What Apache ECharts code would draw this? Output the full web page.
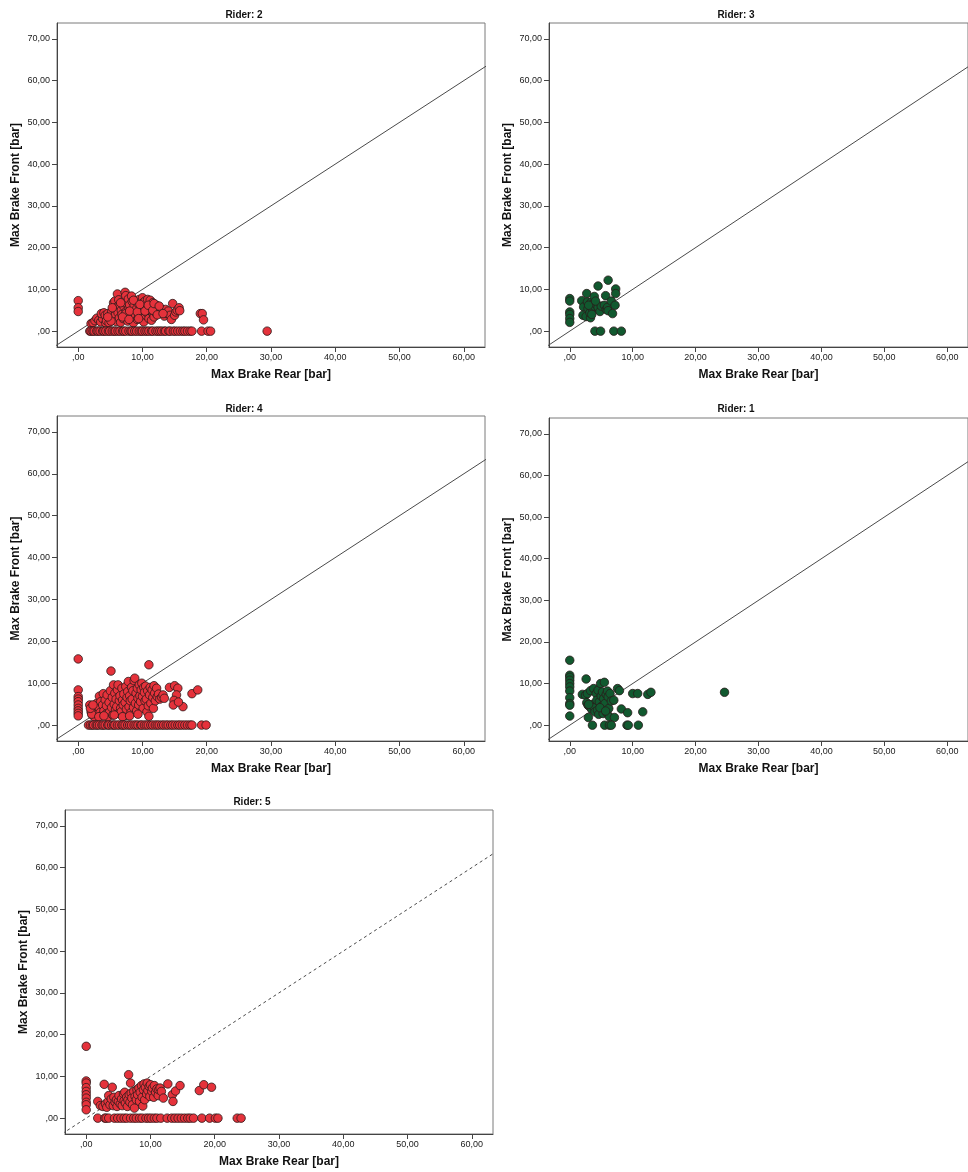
<!DOCTYPE html>
<html>
<head>
<meta charset="utf-8">
<script src="https://cdn.jsdelivr.net/npm/echarts@6/dist/echarts.min.js"></script>
<style>
html,body{margin:0;padding:0;background:#fff;}
#chart{width:968px;height:1172px;}
</style>
</head>
<body>
<div id="chart"></div>
<script>
// ---------- DATA ----------
const panelTitles = ['Rider: 2', 'Rider: 3', 'Rider: 4', 'Rider: 1', 'Rider: 5'];
const xAxisTitle = 'Max Brake Rear [bar]';
const yAxisTitle = 'Max Brake Front [bar]';
const xTickValues = [0, 10, 20, 30, 40, 50, 60];
const yTickValues = [0, 10, 20, 30, 40, 50, 60, 70];
const refLine = [[-10, -10], [80, 80]];   // y = x reference line

const rider2 = [
  [0,7.3],[0,5.6],[0,4.7],
  [2.0,1.8],[2.3,2.0],[2.6,2.5],[2.9,3.1],[3.2,2.6],[3.5,2.2],[3.8,3.0],[3.6,4.2],[4.0,4.4],[4.2,3.8],[4.3,1.9],[4.4,2.5],[4.6,4.2],[4.8,2.0],[4.9,3.2],
  [5.0,3.5],[5.2,4.6],[5.4,2.8],[5.5,6.8],[5.6,5.2],[5.7,7.2],[5.8,3.9],[5.9,2.3],[6.0,5.8],[6.1,8.9],[6.2,4.4],[6.3,7.5],[6.4,3.2],[6.5,6.2],[6.6,2.1],[6.7,5.0],[6.8,4.0],[6.9,7.0],
  [7.0,3.0],[7.1,5.9],[7.2,6.8],[7.3,9.3],[7.4,8.5],[7.5,4.8],[7.6,3.6],[7.7,2.4],[7.8,7.7],[7.9,5.5],[8.0,6.3],[8.1,4.2],[8.2,3.2],[8.3,8.4],[8.4,7.1],[8.5,5.0],[8.6,2.0],[8.7,6.0],[8.8,4.5],[8.9,3.6],
  [9.0,7.2],[9.1,5.4],[9.2,2.8],[9.3,6.6],[9.4,4.0],[9.5,7.6],[9.6,5.0],[9.7,3.4],[9.8,6.2],[9.9,4.6],[10.0,8.0],[10.1,6.8],[10.2,2.2],[10.3,5.5],[10.4,7.2],[10.5,3.8],[10.6,6.0],[10.7,4.4],[10.8,7.6],[10.9,5.0],
  [11.0,3.0],[11.1,6.5],[11.2,7.4],[11.3,4.8],[11.4,2.6],[11.5,5.8],[11.6,6.8],[11.7,4.0],[11.8,3.4],[11.9,6.0],[12.0,5.2],[12.1,4.4],[12.2,6.2],[12.4,5.6],[12.6,4.8],[12.8,5.4],[13.0,4.6],[13.2,5.0],[13.4,3.6],[13.6,5.2],[13.8,4.2],[14.0,4.8],[14.3,3.8],[14.5,2.8],[14.7,6.6],[15.0,3.8],[15.2,4.6],[15.4,5.0],[15.7,5.6],[15.8,4.9],
  [5.3,5.6],[6.6,6.8],[7.4,4.2],[8.0,4.8],[8.6,7.4],[9.2,4.6],[9.6,6.4],[10.4,4.8],[10.9,6.2],[11.6,5.0],[12.3,3.9],[6.9,3.4],[7.9,2.8],[9.4,3.0],[11.8,6.6],[12.6,6.0],[13.2,4.2],[5.1,2.4],[4.6,3.4],
  [19.0,4.2],[19.3,4.2],[19.5,2.7],
  [1.8,0],[2.0,0],[2.3,0],[2.5,0],[2.9,0],[3.1,0],[3.4,0],[3.8,0],[4.0,0],[4.3,0],[4.7,0],[4.9,0],[5.3,0],[5.6,0],[5.8,0],[6.2,0],[6.5,0],[6.9,0],[7.1,0],[7.4,0],[7.9,0],[8.2,0],[8.4,0],[8.8,0],[9.1,0],[9.5,0],[9.8,0],[10.0,0],[10.4,0],[10.7,0],[11.0,0],[11.4,0],[11.6,0],[12.1,0],[12.4,0],[12.7,0],[13.0,0],[13.4,0],[13.6,0],[14.1,0],[14.3,0],[14.8,0],[15.1,0],[15.5,0],[15.9,0],[16.3,0],[16.6,0],[17.0,0],[17.4,0],[17.7,0],
  [19.2,0],[20.2,0],[20.6,0],[29.4,0]
];

const rider3 = [
  [0,7.8],[0,7.2],[0,4.6],[0,4.0],[0,3.0],[0,2.1],
  [1.9,7.3],[2.2,5.8],[2.1,3.8],[2.6,3.5],[2.7,9.0],[2.8,7.0],[2.9,5.4],[3.3,3.2],[3.2,4.4],[3.4,6.9],[3.6,5.2],[3.7,6.6],[3.9,8.3],[3.9,6.0],[4.2,6.4],[4.5,10.8],[4.5,5.7],[4.8,4.7],[5.0,6.0],[5.5,6.2],[5.7,8.5],[5.8,5.2],[6.0,5.7],[6.1,4.9],[6.1,12.2],[6.6,7.2],[6.8,4.2],[7.2,6.2],[7.3,10.1],[7.3,9.0],[3.0,6.2],[4.1,7.2],[3.5,4.0],
  [4.0,0],[4.9,0],[7.0,0],[8.2,0]
];

const rider4 = [
  [0,15.8],[0,8.4],[0,6.8],[0,6.2],[0,5.6],[0,4.8],[0,4.0],[0,3.4],[0,2.8],[0,2.2],
  [1.8,4.8],[2.0,3.2],[2.2,2.4],[2.4,4.0],[2.5,2.0],[2.7,3.6],[2.9,5.2],[3.0,2.6],[3.1,4.4],[3.3,6.9],[3.4,3.0],[3.5,5.6],[3.6,2.2],[3.8,4.8],[3.9,7.5],[4.0,3.4],[4.2,6.0],[4.3,2.6],[4.4,4.6],[4.5,7.2],[4.6,1.9],[4.8,5.4],[4.9,3.2],
  [5.0,8.2],[5.1,12.9],[5.2,4.2],[5.3,6.6],[5.4,2.4],[5.5,9.6],[5.6,5.0],[5.7,7.6],[5.8,3.6],[5.9,6.2],[6.0,4.4],[6.1,8.4],[6.2,9.6],[6.3,2.8],[6.4,5.8],[6.5,7.0],[6.6,4.0],[6.7,3.2],[6.8,8.8],[6.9,6.0],
  [7.0,4.8],[7.1,7.4],[7.2,2.2],[7.3,5.4],[7.4,9.2],[7.5,3.8],[7.6,6.6],[7.7,8.0],[7.8,10.4],[7.9,4.4],[8.0,7.0],[8.1,5.8],[8.2,3.0],[8.3,9.0],[8.4,6.2],[8.5,8.2],[8.6,4.2],[8.7,10.6],[8.8,11.2],[8.9,5.2],
  [9.0,7.6],[9.1,3.4],[9.2,8.8],[9.3,6.4],[9.4,4.8],[9.5,9.6],[9.6,7.0],[9.7,5.6],[9.8,8.4],[9.9,10.0],[10.0,6.8],[10.1,4.0],[10.2,9.0],[10.3,7.8],[10.4,5.8],[10.5,9.3],[10.6,6.2],[10.7,3.2],[10.8,8.2],[10.9,4.6],
  [11.0,14.4],[11.0,2.1],[11.1,7.2],[11.2,9.0],[11.3,5.2],[11.5,8.4],[11.6,6.6],[11.7,4.0],[11.8,9.4],[11.9,7.6],[12.0,5.8],[12.2,8.8],[12.3,6.8],[12.5,7.4],[12.7,6.2],[13.0,6.6],[13.2,7.2],[13.4,6.4],
  [2.1,2.6],[3.2,2.0],[4.0,2.2],[5.6,2.4],[6.9,2.0],[8.0,2.2],[9.3,2.6],[1.9,4.0],[2.3,4.8],
  [14.2,9.0],[15.0,9.4],[15.5,8.8],[15.3,7.2],[14.9,5.9],[14.8,4.8],[16.3,4.4],[15.6,5.5],[17.7,7.5],[18.6,8.4],
  [1.6,0],[1.9,0],[2.2,0],[2.4,0],[2.8,0],[3.0,0],[3.3,0],[3.7,0],[3.9,0],[4.2,0],[4.6,0],[4.8,0],[5.2,0],[5.5,0],[5.7,0],[6.1,0],[6.4,0],[6.8,0],[7.0,0],[7.3,0],[7.7,0],[8.0,0],[8.3,0],[8.7,0],[9.0,0],[9.3,0],[9.7,0],[9.9,0],[10.3,0],[10.6,0],[10.9,0],[11.3,0],[11.6,0],[12.0,0],[12.3,0],[12.6,0],[13.0,0],[13.3,0],[13.7,0],[14.0,0],[14.4,0],[14.7,0],[15.1,0],[15.5,0],[15.8,0],[16.2,0],[16.6,0],[17.0,0],[17.4,0],[17.7,0],
  [19.2,0],[19.9,0]
];

const rider1 = [
  [0,15.6],[0,12.0],[0,11.5],[0,10.8],[0,10.0],[0,9.2],[0,8.2],[0,6.6],[0,5.2],[0,4.8],[0,2.2],
  [2.0,7.4],[2.5,7.2],[2.6,11.1],[2.8,7.6],[2.7,5.4],[2.9,4.8],[2.95,1.85],[3.3,8.3],[3.2,4.4],[3.5,3.8],[3.6,5.0],[3.8,8.8],[3.9,4.2],[4.0,3.2],[4.2,7.6],[4.3,6.0],[4.4,3.6],[4.5,8.4],[4.6,2.6],[4.7,5.6],[4.9,10.0],
  [5.0,7.0],[5.1,4.6],[5.2,8.0],[5.3,2.8],[5.5,10.3],[5.4,6.4],[5.6,5.2],[5.8,7.4],[5.9,3.0],[6.0,8.2],[6.1,6.8],[6.2,4.0],[6.3,2.0],[6.4,7.6],[6.6,5.8],[7.0,6.0],[7.1,1.85],[7.6,8.8],[7.9,8.3],
  [8.2,3.9],[9.2,3.0],[10.0,7.6],[10.8,7.6],[11.6,3.2],[12.4,7.4],[12.9,7.9],[24.6,7.9],[3.0,5.0],[4.8,4.2],[5.7,3.4],
  [3.6,0],[5.55,0],[6.3,0],[6.6,0],[9.1,0],[9.3,0],[10.9,0]
];

const rider5 = [
  [0,17.2],[0,8.9],[0,8.4],[0,7.3],[0,6.4],[0,5.6],[0,4.8],[0,3.8],[0,3.2],[0,2.0],
  [1.8,4.0],[2.2,3.0],[2.8,8.1],[2.6,2.8],[3.0,3.4],[3.2,2.6],[3.4,4.0],[3.5,5.4],[3.7,3.2],[3.9,4.6],[4.05,7.4],[4.2,3.0],[4.3,5.0],[4.5,3.8],[4.7,4.4],[4.8,2.8],
  [5.0,4.0],[5.1,5.4],[5.3,3.4],[5.5,4.6],[5.6,3.0],[5.8,5.8],[5.9,4.2],[6.0,6.2],[6.1,3.6],[6.3,5.0],[6.4,2.8],[6.5,4.4],[6.6,10.4],[6.7,5.6],[6.8,3.8],[6.9,8.4],
  [7.0,6.0],[7.1,4.8],[7.2,3.2],[7.4,6.4],[7.5,2.4],[7.6,5.2],[7.8,4.4],[7.9,6.8],[8.0,5.6],[8.2,7.2],[8.3,4.0],[8.4,6.2],[8.6,7.8],[8.7,5.0],[8.8,2.9],[8.9,6.8],
  [9.0,8.2],[9.1,4.4],[9.2,7.4],[9.4,5.8],[9.5,8.4],[9.6,6.6],[9.8,7.6],[9.9,5.2],[10.0,8.0],[10.2,6.4],[10.3,7.2],[10.5,5.0],[10.6,7.8],[10.8,6.2],
  [11.0,7.0],[11.2,5.4],[11.3,6.8],[11.5,7.2],[11.7,6.4],[12.0,4.8],[12.7,8.2],[13.4,5.6],[13.5,4.0],[13.9,6.5],[14.6,7.8],[17.6,6.6],[18.3,8.0],[19.5,7.4],
  [1.8,0],[2.9,0],[3.1,0],[3.5,0],[4.4,0],[4.9,0],[5.4,0],[5.9,0],[6.3,0],[6.9,0],[7.4,0],[7.8,0],[8.3,0],[8.7,0],[9.3,0],[9.7,0],[10.1,0],[10.6,0],[11.0,0],[11.6,0],[12.6,0],[13.3,0],[13.8,0],[14.3,0],[14.8,0],[15.3,0],[15.8,0],[16.2,0],[16.7,0],
  [18.0,0],[19.2,0],[20.1,0],[20.5,0],[23.5,0],[24.1,0]
];

const panelData = [rider2, rider3, rider4, rider1, rider5];

// ---------- STYLE / LAYOUT ----------
const RED = '#e5323b';
const GREEN = '#11592f';
const panelColors = [RED, GREEN, RED, GREEN, RED];
const lineTypes = ['solid', 'solid', 'solid', 'solid', [3, 3]];
const grids = [
  {left: 57,  top: 23,  width: 428, height: 324},
  {left: 549, top: 23,  width: 428, height: 324},
  {left: 57,  top: 416, width: 428, height: 325},
  {left: 549, top: 418, width: 428, height: 323},
  {left: 65,  top: 810, width: 428, height: 324}
];
const titlePos = [[244, 15], [736, 15], [244, 409], [736, 409], [252, 802]];

const FONT = 'Arial, "Liberation Sans", sans-serif';
const fmt = v => (v === 0 ? ',00' : v + ',00');

const option = {
  animation: false,
  backgroundColor: '#fff',
  grid: grids.map(g => Object.assign({show: true, borderColor: '#7a7a7a', borderWidth: 1, backgroundColor: 'transparent', containLabel: false}, g)),
  xAxis: grids.map((g, i) => ({
    gridIndex: i, type: 'value', min: -3.3, max: 63.3,
    name: xAxisTitle, nameLocation: 'middle', nameGap: 22,
    nameTextStyle: {fontFamily: FONT, fontSize: 12, fontWeight: 'bold', color: '#111'},
    axisLine: {show: true, onZero: false, lineStyle: {color: '#444', width: 1}},
    axisTick: {show: true, length: 5, customValues: xTickValues, lineStyle: {color: '#444'}},
    axisLabel: {customValues: xTickValues, formatter: fmt, margin: 6, fontFamily: FONT, fontSize: 9, color: '#1a1a1a'},
    splitLine: {show: false}
  })),
  yAxis: grids.map((g, i) => ({
    gridIndex: i, type: 'value', min: -3.8, max: 73.8,
    name: yAxisTitle, nameLocation: 'middle', nameGap: 35,
    nameTextStyle: {fontFamily: FONT, fontSize: 12, fontWeight: 'bold', color: '#111'},
    axisLine: {show: true, onZero: false, lineStyle: {color: '#444', width: 1}},
    axisTick: {show: true, length: 5, customValues: yTickValues, lineStyle: {color: '#444'}},
    axisLabel: {customValues: yTickValues, formatter: fmt, margin: 7, fontFamily: FONT, fontSize: 9, color: '#1a1a1a'},
    splitLine: {show: false}
  })),
  graphic: panelTitles.map((t, i) => ({
    type: 'text', x: titlePos[i][0], y: titlePos[i][1],
    style: {text: t, align: 'center', verticalAlign: 'middle', fontFamily: FONT, fontSize: 10, fontWeight: 'bold', fill: '#111'}
  })),
  series: []
};

panelData.forEach((pts, i) => {
  option.series.push({
    type: 'line', xAxisIndex: i, yAxisIndex: i, data: refLine,
    showSymbol: false, silent: true, clip: true, z: 1,
    lineStyle: {color: '#4a4a4a', width: 1, type: lineTypes[i]}
  });
  option.series.push({
    type: 'scatter', xAxisIndex: i, yAxisIndex: i, data: pts,
    symbol: 'circle', symbolSize: 8.5, z: 3, clip: false,
    itemStyle: {color: panelColors[i], borderColor: '#2a1a1a', borderWidth: 0.8, opacity: 1}
  });
});

const chart = echarts.init(document.getElementById('chart'), null, {renderer: 'canvas'});
chart.setOption(option);
</script>
</body>
</html>
